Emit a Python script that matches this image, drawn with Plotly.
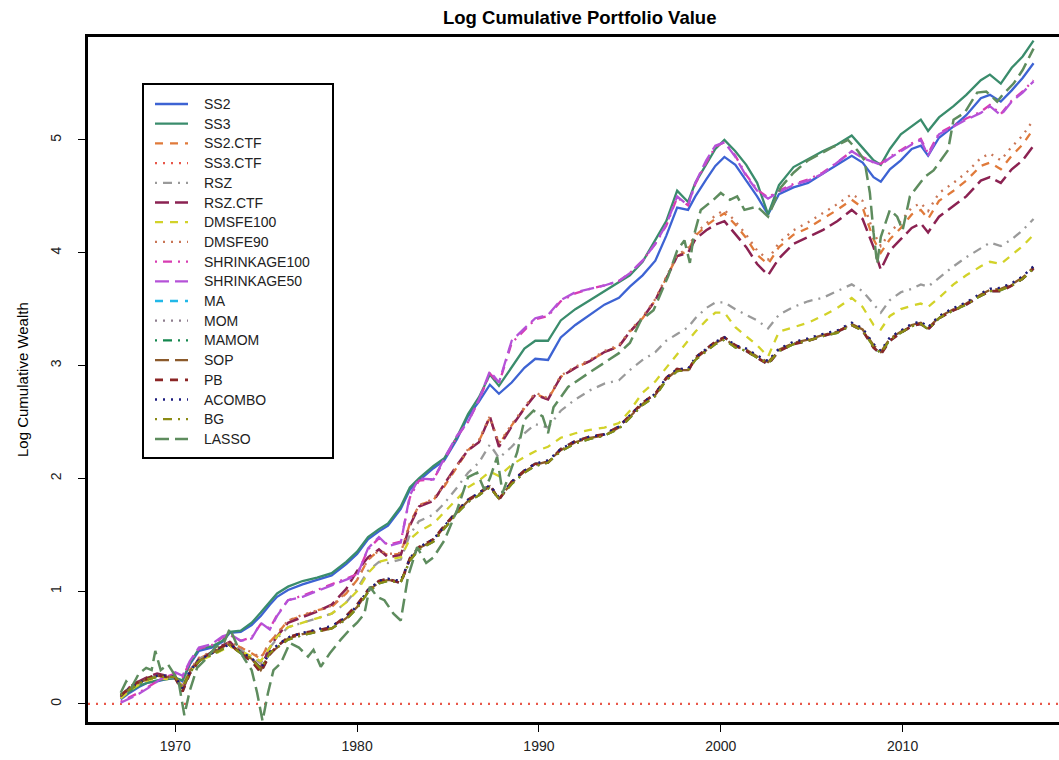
import plotly.graph_objects as go

# ---------------- data ----------------
YEARS = [1967.0, 1967.5, 1968.0, 1968.5, 1969.0, 1969.5, 1970.0, 1970.4, 1970.8, 1971.3,
         1972.0, 1972.6, 1973.0, 1973.6, 1974.2, 1974.7, 1975.2, 1975.6, 1976.2, 1977.0,
         1977.8, 1978.6, 1979.4, 1980.0, 1980.6, 1981.2, 1981.7, 1982.4, 1982.9, 1983.4,
         1984.2, 1984.8, 1985.5, 1986.1, 1986.7, 1987.3, 1987.8, 1988.5, 1989.2, 1989.8,
         1990.5, 1991.2, 1992.0, 1992.8, 1993.6, 1994.4, 1995.0, 1995.7, 1996.4, 1997.0,
         1997.6, 1998.2, 1998.6, 1999.2, 1999.7, 2000.2, 2000.8, 2001.4, 2002.0, 2002.6,
         2003.2, 2004.0, 2004.8, 2005.6, 2006.4, 2007.2, 2007.8, 2008.4, 2008.8, 2009.3,
         2009.9, 2010.5, 2011.0, 2011.4, 2012.0, 2012.8, 2013.5, 2014.3, 2014.8, 2015.4,
         2016.0, 2016.6, 2017.2]

SS2 = [0.04, 0.10, 0.15, 0.19, 0.20, 0.22, 0.23, 0.20, 0.35, 0.47,
       0.50, 0.55, 0.63, 0.64, 0.70, 0.78, 0.88, 0.95, 1.01, 1.06,
       1.10, 1.14, 1.24, 1.33, 1.46, 1.53, 1.58, 1.73, 1.90, 1.98,
       2.09, 2.16, 2.35, 2.55, 2.68, 2.83, 2.75, 2.85, 2.98, 3.06,
       3.05, 3.25, 3.36, 3.45, 3.54, 3.60, 3.70, 3.80, 3.93, 4.15,
       4.40, 4.38, 4.50, 4.65, 4.77, 4.85, 4.78, 4.64, 4.50, 4.34,
       4.52, 4.58, 4.62, 4.70, 4.78, 4.86, 4.80, 4.67, 4.63, 4.74,
       4.82, 4.92, 4.95, 4.86, 5.02, 5.12, 5.22, 5.37, 5.40, 5.34,
       5.44, 5.55, 5.68]

SS3 = [0.05, 0.11, 0.16, 0.19, 0.21, 0.22, 0.23, 0.21, 0.36, 0.49,
       0.51, 0.56, 0.64, 0.65, 0.72, 0.81, 0.91, 0.98, 1.04, 1.09,
       1.12, 1.16, 1.26, 1.35, 1.48, 1.55, 1.60, 1.75, 1.92, 2.00,
       2.11, 2.18, 2.37, 2.57, 2.72, 2.92, 2.82, 2.98, 3.15, 3.22,
       3.22, 3.40, 3.50, 3.58, 3.66, 3.74, 3.80, 3.92, 4.12, 4.28,
       4.55, 4.45, 4.62, 4.78, 4.92, 5.00, 4.90, 4.78, 4.62, 4.34,
       4.60, 4.76, 4.83, 4.90, 4.96, 5.04, 4.93, 4.82, 4.78, 4.92,
       5.05, 5.12, 5.18, 5.08, 5.20, 5.30, 5.40, 5.53, 5.58, 5.50,
       5.64, 5.74, 5.88]

SS2_CTF = [0.07, 0.14, 0.18, 0.22, 0.24, 0.23, 0.24, 0.15, 0.30, 0.40,
           0.46, 0.50, 0.55, 0.50, 0.45, 0.40, 0.55, 0.62, 0.74, 0.78,
           0.83, 0.86, 0.98, 1.10, 1.28, 1.36, 1.32, 1.33, 1.60, 1.76,
           1.81, 1.93, 2.10, 2.25, 2.33, 2.54, 2.30, 2.47, 2.62, 2.75,
           2.70, 2.90, 2.98, 3.04, 3.12, 3.17, 3.30, 3.42, 3.58, 3.77,
           3.97, 4.02, 4.15, 4.24, 4.30, 4.35, 4.25, 4.13, 3.98, 3.90,
           4.05, 4.16, 4.22, 4.30, 4.38, 4.47, 4.40, 4.12, 4.00, 4.12,
           4.22, 4.34, 4.38, 4.30, 4.46, 4.55, 4.64, 4.77, 4.80, 4.74,
           4.86, 4.96, 5.10]

SS3_CTF_LEVEL = 0.0

RSZ = [0.06, 0.13, 0.18, 0.22, 0.24, 0.23, 0.24, 0.16, 0.30, 0.40,
       0.45, 0.50, 0.53, 0.48, 0.42, 0.36, 0.50, 0.58, 0.68, 0.72,
       0.76, 0.80, 0.90, 1.02, 1.18, 1.26, 1.25, 1.28, 1.50, 1.62,
       1.68, 1.78, 1.92, 2.05, 2.14, 2.30, 2.18, 2.28, 2.40, 2.48,
       2.45, 2.60, 2.70, 2.78, 2.84, 2.87, 2.96, 3.05, 3.12, 3.22,
       3.28, 3.34, 3.42, 3.51, 3.56, 3.56, 3.50, 3.45, 3.40, 3.33,
       3.45, 3.52, 3.57, 3.60, 3.66, 3.72, 3.66, 3.55, 3.47, 3.58,
       3.65, 3.68, 3.72, 3.70, 3.78, 3.88, 3.96, 4.04, 4.09, 4.06,
       4.12, 4.20, 4.30]

RSZ_CTF = [0.06, 0.15, 0.20, 0.24, 0.27, 0.25, 0.24, 0.12, 0.28, 0.40,
           0.45, 0.52, 0.55, 0.46, 0.40, 0.32, 0.50, 0.60, 0.72, 0.77,
           0.82, 0.88, 1.02, 1.18, 1.30, 1.37, 1.30, 1.32, 1.58, 1.75,
           1.80, 1.95, 2.12, 2.25, 2.32, 2.55, 2.28, 2.46, 2.62, 2.74,
           2.70, 2.90, 2.98, 3.04, 3.12, 3.17, 3.30, 3.42, 3.58, 3.77,
           3.97, 4.00, 4.12, 4.20, 4.25, 4.28, 4.16, 4.05, 3.90, 3.80,
           3.95, 4.08, 4.14, 4.20, 4.28, 4.38, 4.30, 4.05, 3.85, 4.02,
           4.12, 4.22, 4.26, 4.18, 4.32, 4.42, 4.50, 4.64, 4.67, 4.62,
           4.74, 4.82, 4.95]

DMSFE100 = [0.05, 0.12, 0.17, 0.21, 0.23, 0.22, 0.22, 0.16, 0.28, 0.38,
            0.43, 0.48, 0.51, 0.47, 0.42, 0.38, 0.50, 0.60, 0.68, 0.72,
            0.76, 0.80, 0.90, 1.00, 1.16, 1.26, 1.28, 1.30, 1.46, 1.53,
            1.60, 1.70, 1.82, 1.92, 1.98, 2.06, 2.02, 2.12, 2.19, 2.24,
            2.28, 2.36, 2.40, 2.43, 2.45, 2.49, 2.60, 2.76, 2.86, 2.98,
            3.10, 3.22, 3.30, 3.40, 3.47, 3.47, 3.34, 3.26, 3.18, 3.08,
            3.30, 3.34, 3.38, 3.44, 3.51, 3.60, 3.52, 3.36, 3.32, 3.44,
            3.50, 3.53, 3.55, 3.52, 3.60, 3.72, 3.80, 3.88, 3.92, 3.90,
            3.98, 4.06, 4.16]

DMSFE90 = [0.07, 0.14, 0.19, 0.22, 0.25, 0.24, 0.24, 0.16, 0.30, 0.41,
           0.46, 0.51, 0.55, 0.50, 0.46, 0.41, 0.55, 0.63, 0.74, 0.79,
           0.83, 0.87, 0.99, 1.10, 1.28, 1.36, 1.33, 1.34, 1.60, 1.76,
           1.82, 1.94, 2.11, 2.26, 2.34, 2.55, 2.31, 2.48, 2.63, 2.76,
           2.71, 2.91, 2.99, 3.05, 3.13, 3.18, 3.31, 3.43, 3.59, 3.78,
           3.98, 4.04, 4.17, 4.26, 4.33, 4.38, 4.28, 4.16, 4.02, 3.94,
           4.09, 4.20, 4.27, 4.35, 4.43, 4.52, 4.46, 4.18, 4.06, 4.18,
           4.28, 4.40, 4.44, 4.37, 4.53, 4.62, 4.71, 4.84, 4.88, 4.82,
           4.94, 5.04, 5.18]

SHRINKAGE100 = [0.02, 0.06, 0.10, 0.15, 0.20, 0.24, 0.27, 0.24, 0.37, 0.49,
                0.52, 0.59, 0.61, 0.56, 0.59, 0.71, 0.67, 0.79, 0.92, 0.96,
                1.01, 1.06, 1.11, 1.15, 1.37, 1.47, 1.41, 1.44, 1.83, 1.98,
                1.99, 2.17, 2.37, 2.50, 2.69, 2.93, 2.84, 3.20, 3.31, 3.41,
                3.44, 3.57, 3.64, 3.68, 3.71, 3.75, 3.82, 3.93, 4.08, 4.24,
                4.49, 4.42, 4.61, 4.80, 4.94, 4.98, 4.86, 4.69, 4.56, 4.49,
                4.55, 4.61, 4.65, 4.71, 4.80, 4.90, 4.85, 4.80, 4.79, 4.85,
                4.91, 4.97, 5.01, 4.88, 5.06, 5.13, 5.19, 5.25, 5.31, 5.23,
                5.35, 5.43, 5.53]

SHRINKAGE50 = [0.01, 0.05, 0.09, 0.14, 0.20, 0.25, 0.28, 0.25, 0.38, 0.50,
               0.53, 0.60, 0.62, 0.56, 0.58, 0.72, 0.66, 0.78, 0.92, 0.95,
               1.00, 1.05, 1.10, 1.14, 1.38, 1.48, 1.40, 1.43, 1.85, 2.00,
               1.99, 2.18, 2.38, 2.50, 2.70, 2.95, 2.85, 3.22, 3.33, 3.42,
               3.45, 3.58, 3.65, 3.68, 3.71, 3.75, 3.82, 3.93, 4.08, 4.25,
               4.50, 4.42, 4.62, 4.82, 4.95, 4.98, 4.85, 4.68, 4.55, 4.48,
               4.54, 4.60, 4.64, 4.70, 4.80, 4.90, 4.84, 4.80, 4.78, 4.84,
               4.90, 4.96, 5.00, 4.86, 5.05, 5.12, 5.18, 5.24, 5.30, 5.22,
               5.34, 5.42, 5.52]

MA = [0.07, 0.15, 0.20, 0.23, 0.26, 0.24, 0.23, 0.11, 0.27, 0.38,
      0.46, 0.51, 0.54, 0.44, 0.38, 0.28, 0.44, 0.51, 0.59, 0.63,
      0.65, 0.68, 0.78, 0.88, 1.01, 1.09, 1.11, 1.07, 1.29, 1.39,
      1.46, 1.58, 1.71, 1.81, 1.87, 1.94, 1.81, 1.97, 2.07, 2.13,
      2.14, 2.26, 2.33, 2.37, 2.39, 2.46, 2.56, 2.67, 2.75, 2.89,
      2.97, 2.95, 3.07, 3.15, 3.21, 3.25, 3.18, 3.13, 3.07, 3.01,
      3.13, 3.19, 3.22, 3.26, 3.30, 3.36, 3.31, 3.16, 3.10, 3.22,
      3.29, 3.35, 3.37, 3.32, 3.42, 3.49, 3.54, 3.62, 3.66, 3.66,
      3.71, 3.77, 3.86]

MOM = [0.08, 0.14, 0.19, 0.22, 0.25, 0.25, 0.24, 0.14, 0.29, 0.39,
       0.45, 0.50, 0.53, 0.46, 0.41, 0.31, 0.46, 0.52, 0.59, 0.63,
       0.66, 0.69, 0.77, 0.87, 1.01, 1.09, 1.11, 1.09, 1.29, 1.39,
       1.46, 1.58, 1.71, 1.81, 1.87, 1.94, 1.83, 1.97, 2.07, 2.13,
       2.16, 2.26, 2.33, 2.37, 2.39, 2.46, 2.56, 2.67, 2.75, 2.89,
       2.97, 2.97, 3.07, 3.15, 3.21, 3.25, 3.18, 3.15, 3.09, 3.04,
       3.15, 3.21, 3.24, 3.28, 3.31, 3.38, 3.33, 3.19, 3.13, 3.25,
       3.31, 3.37, 3.39, 3.34, 3.44, 3.51, 3.56, 3.64, 3.68, 3.69,
       3.73, 3.79, 3.88]

MAMOM = [0.08, 0.13, 0.18, 0.22, 0.24, 0.24, 0.24, 0.14, 0.28, 0.38,
         0.44, 0.49, 0.52, 0.45, 0.40, 0.31, 0.45, 0.50, 0.57, 0.61,
         0.64, 0.67, 0.75, 0.85, 0.99, 1.07, 1.09, 1.08, 1.27, 1.37,
         1.44, 1.56, 1.69, 1.79, 1.85, 1.92, 1.82, 1.95, 2.05, 2.11,
         2.14, 2.24, 2.31, 2.35, 2.38, 2.44, 2.54, 2.65, 2.73, 2.87,
         2.95, 2.96, 3.05, 3.13, 3.19, 3.23, 3.16, 3.13, 3.07, 3.02,
         3.13, 3.19, 3.22, 3.26, 3.29, 3.36, 3.31, 3.17, 3.11, 3.23,
         3.29, 3.35, 3.37, 3.32, 3.42, 3.49, 3.54, 3.62, 3.66, 3.67,
         3.71, 3.77, 3.86]

SOP = [0.08, 0.14, 0.19, 0.22, 0.25, 0.24, 0.24, 0.13, 0.28, 0.38,
       0.45, 0.50, 0.53, 0.45, 0.40, 0.30, 0.45, 0.50, 0.58, 0.62,
       0.64, 0.67, 0.76, 0.86, 1.00, 1.08, 1.10, 1.08, 1.28, 1.38,
       1.45, 1.57, 1.70, 1.80, 1.86, 1.93, 1.82, 1.96, 2.06, 2.12,
       2.15, 2.25, 2.32, 2.36, 2.38, 2.45, 2.55, 2.66, 2.74, 2.88,
       2.96, 2.96, 3.06, 3.14, 3.20, 3.24, 3.17, 3.14, 3.08, 3.03,
       3.14, 3.20, 3.23, 3.27, 3.30, 3.37, 3.32, 3.18, 3.12, 3.24,
       3.30, 3.36, 3.38, 3.33, 3.43, 3.50, 3.55, 3.63, 3.67, 3.68,
       3.72, 3.78, 3.87]

PB = [0.07, 0.15, 0.20, 0.23, 0.26, 0.24, 0.23, 0.11, 0.27, 0.38,
      0.46, 0.51, 0.54, 0.44, 0.38, 0.28, 0.44, 0.51, 0.59, 0.63,
      0.65, 0.68, 0.78, 0.88, 1.01, 1.09, 1.11, 1.07, 1.29, 1.39,
      1.46, 1.58, 1.71, 1.81, 1.87, 1.94, 1.81, 1.97, 2.07, 2.13,
      2.14, 2.26, 2.33, 2.37, 2.39, 2.46, 2.56, 2.67, 2.75, 2.89,
      2.97, 2.95, 3.07, 3.15, 3.21, 3.25, 3.18, 3.13, 3.07, 3.01,
      3.13, 3.19, 3.22, 3.26, 3.30, 3.36, 3.31, 3.16, 3.10, 3.22,
      3.29, 3.35, 3.37, 3.32, 3.42, 3.49, 3.54, 3.62, 3.66, 3.66,
      3.71, 3.77, 3.86]

ACOMBO = [0.08, 0.14, 0.19, 0.22, 0.25, 0.25, 0.24, 0.14, 0.29, 0.39,
          0.45, 0.50, 0.53, 0.46, 0.41, 0.31, 0.46, 0.52, 0.59, 0.63,
          0.66, 0.69, 0.77, 0.87, 1.01, 1.09, 1.11, 1.09, 1.29, 1.39,
          1.46, 1.58, 1.71, 1.81, 1.87, 1.94, 1.83, 1.97, 2.07, 2.13,
          2.16, 2.26, 2.33, 2.37, 2.39, 2.46, 2.56, 2.67, 2.75, 2.89,
          2.97, 2.97, 3.07, 3.15, 3.21, 3.25, 3.18, 3.15, 3.09, 3.04,
          3.15, 3.21, 3.24, 3.28, 3.31, 3.38, 3.33, 3.19, 3.13, 3.25,
          3.31, 3.37, 3.39, 3.34, 3.44, 3.51, 3.56, 3.64, 3.68, 3.69,
          3.73, 3.79, 3.88]

BG = [0.08, 0.13, 0.18, 0.22, 0.24, 0.24, 0.24, 0.14, 0.28, 0.38,
      0.44, 0.49, 0.52, 0.45, 0.40, 0.31, 0.45, 0.50, 0.57, 0.61,
      0.64, 0.67, 0.75, 0.85, 0.99, 1.07, 1.09, 1.08, 1.27, 1.37,
      1.44, 1.56, 1.69, 1.79, 1.85, 1.92, 1.82, 1.95, 2.05, 2.11,
      2.14, 2.24, 2.31, 2.35, 2.38, 2.44, 2.54, 2.65, 2.73, 2.87,
      2.95, 2.96, 3.05, 3.13, 3.19, 3.23, 3.16, 3.13, 3.07, 3.02,
      3.13, 3.19, 3.22, 3.26, 3.29, 3.36, 3.31, 3.17, 3.11, 3.23,
      3.29, 3.35, 3.37, 3.32, 3.42, 3.49, 3.54, 3.62, 3.66, 3.67,
      3.71, 3.77, 3.86]

LASSO_YEARS = [1967.0, 1967.3, 1967.6, 1968.0, 1968.4, 1968.7, 1968.9, 1969.2, 1969.6, 1970.0,
               1970.2, 1970.5, 1970.8, 1971.2, 1971.7, 1972.2, 1972.7, 1973.0, 1973.4, 1973.8,
               1974.2, 1974.5, 1974.8, 1975.1, 1975.4, 1975.8, 1976.3, 1976.8, 1977.3, 1977.6,
               1978.0, 1978.5, 1979.1, 1979.6, 1980.0, 1980.4, 1980.7, 1981.1, 1981.5, 1982.0,
               1982.4, 1982.8, 1983.3, 1983.8, 1984.2, 1984.8, 1985.5, 1986.1, 1986.6, 1987.0,
               1987.3, 1987.7, 1988.0, 1988.4, 1988.8, 1989.2, 1989.7, 1990.2, 1990.5, 1990.8,
               1991.6, 1992.7, 1993.8, 1994.4, 1995.0, 1995.6, 1996.3, 1996.7, 1997.1, 1997.6,
               1998.0, 1998.3, 1998.5, 1998.9, 1999.6, 2000.0, 2000.5, 2000.9, 2001.3, 2002.0,
               2002.6, 2003.3, 2004.0, 2004.8, 2005.5, 2006.2, 2007.0, 2007.5, 2007.9, 2008.2,
               2008.4, 2008.6, 2008.8, 2009.3, 2009.7, 2010.0, 2010.4, 2011.2, 2011.7, 2012.5,
               2012.8, 2013.4, 2014.1, 2014.6, 2015.2, 2015.5, 2016.1, 2016.6, 2017.2]

LASSO = [0.10, 0.20, 0.15, 0.27, 0.32, 0.30, 0.47, 0.30, 0.35, 0.25,
         0.18, -0.10, 0.12, 0.32, 0.40, 0.50, 0.55, 0.67, 0.52, 0.40,
         0.30, 0.10, -0.15, 0.10, 0.30, 0.36, 0.54, 0.50, 0.42, 0.48,
         0.33, 0.45, 0.57, 0.66, 0.72, 0.80, 1.04, 0.95, 0.92, 0.80,
         0.74, 1.13, 1.39, 1.25, 1.30, 1.45, 1.72, 2.01, 2.05, 1.90,
         2.00, 2.19, 1.87, 2.05, 2.23, 2.52, 2.60, 2.55, 2.40, 2.63,
         2.81, 2.93, 3.05, 3.11, 3.20, 3.40, 3.49, 3.64, 3.79, 4.02,
         4.11, 3.91, 4.14, 4.38, 4.47, 4.53, 4.47, 4.50, 4.38, 4.41,
         4.32, 4.58, 4.71, 4.82, 4.88, 4.94, 5.00, 4.91, 4.82, 4.53,
         4.18, 3.90, 4.14, 4.38, 4.32, 4.20, 4.50, 4.67, 4.73, 4.91,
         5.18, 5.24, 5.42, 5.43, 5.34, 5.40, 5.50, 5.62, 5.81]

X_TICKS = [1970, 1980, 1990, 2000, 2010]
Y_TICKS = [0, 1, 2, 3, 4, 5]

# ---------------- styling ----------------
DOT = "2px,6px"
DASH = "8px,7px"
LONG = "14px,6px"
DOTDASH = "2px,6px,9px,6px"

SERIES = [
    ("SS2", YEARS, SS2, "#3D63D3", "solid", 2.3),
    ("SS3", YEARS, SS3, "#3A8C6C", "solid", 2.3),
    ("SS2.CTF", YEARS, SS2_CTF, "#E07A3A", DASH, 2.3),
    ("SS3.CTF", None, None, "#E8574A", DOT, 2.3),
    ("RSZ", YEARS, RSZ, "#9A9A9A", DOTDASH, 2.3),
    ("RSZ.CTF", YEARS, RSZ_CTF, "#8B2252", LONG, 2.5),
    ("DMSFE100", YEARS, DMSFE100, "#D2D229", DASH, 2.3),
    ("DMSFE90", YEARS, DMSFE90, "#C97656", DOT, 2.3),
    ("SHRINKAGE100", YEARS, SHRINKAGE100, "#D83CB2", DOTDASH, 2.3),
    ("SHRINKAGE50", YEARS, SHRINKAGE50, "#B552D8", LONG, 2.3),
    ("MA", YEARS, MA, "#22B8E8", DASH, 2.3),
    ("MOM", YEARS, MOM, "#8E7E8E", DOT, 2.3),
    ("MAMOM", YEARS, MAMOM, "#14874E", DOTDASH, 2.3),
    ("SOP", YEARS, SOP, "#8B5A2B", LONG, 2.3),
    ("PB", YEARS, PB, "#8B2525", DASH, 2.7),
    ("ACOMBO", YEARS, ACOMBO, "#1C1C80", DOT, 2.3),
    ("BG", YEARS, BG, "#8B8B14", DOTDASH, 2.3),
    ("LASSO", LASSO_YEARS, LASSO, "#5E8C5E", LONG, 2.5),
]

W, H = 1059, 760
PL, PT, PR, PB_ = 88, 37, 1059, 722          # plot box in pixels
X_RANGE = [1965.2, 2018.6]
Y_RANGE = [-0.16, 5.913]
FONT = "Liberation Sans, Arial, sans-serif"


def px_x(px):
    return (px - PL) / (PR - PL)


def px_y(py):
    return (PB_ - py) / (PB_ - PT)


fig = go.Figure()
for name, xs, ys, color, dash, width in SERIES:
    if name == "SS3.CTF":
        xs = X_RANGE
        ys = [SS3_CTF_LEVEL, SS3_CTF_LEVEL]
    fig.add_trace(go.Scatter(x=xs, y=ys, mode="lines", name=name, showlegend=False,
                             line=dict(color=color, dash=dash, width=width)))

# ---------------- manual legend (R style box) ----------------
shapes = [dict(type="rect", xref="paper", yref="paper",
               x0=px_x(143), x1=px_x(333), y0=px_y(458), y1=px_y(84),
               line=dict(color="black", width=2), fillcolor="white", layer="above")]
annotations = []
for i, (name, xs, ys, color, dash, width) in enumerate(SERIES):
    yy = 104 + i * 19.7
    shapes.append(dict(type="line", xref="paper", yref="paper",
                       x0=px_x(155), x1=px_x(188), y0=px_y(yy), y1=px_y(yy),
                       line=dict(color=color, dash=dash, width=width), layer="above"))
    annotations.append(dict(xref="paper", yref="paper", x=px_x(202), y=px_y(yy),
                            text=name, showarrow=False, xanchor="left", yanchor="middle",
                            font=dict(family=FONT, size=14, color="#222222")))

annotations.append(dict(xref="paper", yref="paper", x=px_x(579), y=px_y(18),
                        text="<b>Log Cumulative Portfolio Value</b>", showarrow=False,
                        xanchor="center", yanchor="middle",
                        font=dict(family=FONT, size=18.5, color="black")))
annotations.append(dict(xref="paper", yref="paper", x=px_x(22), y=px_y(380),
                        text="Log Cumulative Wealth", showarrow=False, textangle=-90,
                        xanchor="center", yanchor="middle",
                        font=dict(family=FONT, size=15, color="black")))

fig.update_layout(
    width=W, height=H, autosize=False,
    margin=dict(l=PL, r=W - PR, t=PT, b=H - PB_, pad=0),
    paper_bgcolor="white", plot_bgcolor="white",
    shapes=shapes, annotations=annotations,
    font=dict(family=FONT, size=14, color="#222222"),
    xaxis=dict(range=X_RANGE, tickvals=X_TICKS, ticktext=[str(v) for v in X_TICKS],
               ticks="outside", ticklen=7, tickwidth=1, tickcolor="black",
               showline=True, linecolor="black", linewidth=2.5, mirror=True,
               showgrid=False, zeroline=False, ticklabelstandoff=2,
               tickfont=dict(family=FONT, size=14, color="#222222")),
    yaxis=dict(range=Y_RANGE, tickvals=Y_TICKS, ticktext=[str(v) for v in Y_TICKS],
               ticks="outside", ticklen=7, tickwidth=1, tickcolor="black", tickangle=-90,
               showline=True, linecolor="black", linewidth=2.5, mirror=False,
               showgrid=False, zeroline=False, ticklabelstandoff=12,
               tickfont=dict(family=FONT, size=14, color="#222222")),
)

# remove the browser's default page margin so the figure sits at the window's corner
fig.write_html("out.html",
               config={"displayModeBar": False},
               post_script="document.body.style.margin='0';"
                           "document.body.style.overflow='hidden';")
